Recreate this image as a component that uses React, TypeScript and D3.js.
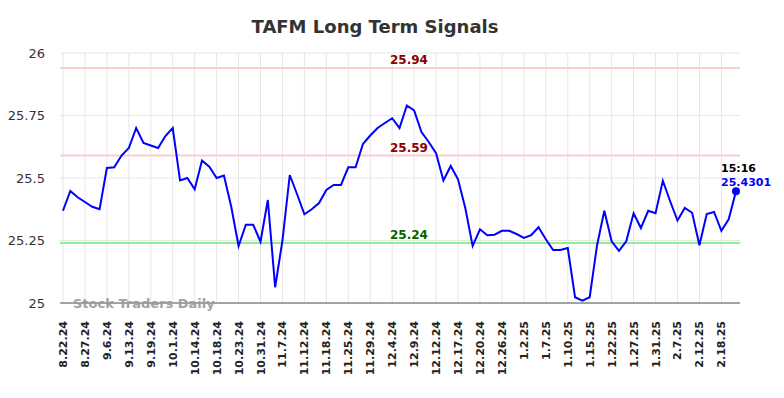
import React, { useRef, useEffect } from 'react';
import * as d3 from 'd3';

const title = 'TAFM Long Term Signals';

const prices = [
  25.369, 25.448, 25.423, 25.404, 25.385, 25.375, 25.54, 25.543, 25.59, 25.62,
  25.70, 25.64, 25.63, 25.62, 25.668, 25.70, 25.49, 25.50, 25.455, 25.57,
  25.545, 25.50, 25.51, 25.385, 25.228, 25.313, 25.313, 25.245, 25.412, 25.063,
  25.25, 25.512, 25.435, 25.355, 25.375, 25.40, 25.452, 25.472, 25.472, 25.543,
  25.543, 25.636, 25.67, 25.70, 25.72, 25.739, 25.70, 25.79, 25.77, 25.684,
  25.644, 25.599, 25.49, 25.548, 25.495, 25.379, 25.228, 25.295, 25.271, 25.273,
  25.289, 25.289, 25.276, 25.26, 25.271, 25.303, 25.255, 25.212, 25.212, 25.22,
  25.023, 25.009, 25.023, 25.23, 25.369, 25.247, 25.209, 25.247, 25.359, 25.30,
  25.369, 25.359, 25.489, 25.407, 25.33, 25.38, 25.361, 25.231, 25.356, 25.364,
  25.289, 25.335, 25.447,
];

// a label every third point
const tickLabels = [
  '8.22.24', '8.27.24', '9.6.24', '9.13.24', '9.19.24', '10.1.24', '10.14.24', '10.18.24',
  '10.23.24', '10.31.24', '11.7.24', '11.12.24', '11.18.24', '11.25.24', '11.29.24', '12.4.24',
  '12.9.24', '12.12.24', '12.17.24', '12.20.24', '12.26.24', '1.2.25', '1.7.25', '1.10.25',
  '1.15.25', '1.22.25', '1.27.25', '1.31.25', '2.7.25', '2.12.25', '2.18.25',
];

const yTicks = [25, 25.25, 25.5, 25.75, 26];

const signals = [
  { value: 25.94, line: '#ffcccc', text: '#8b0000' },
  { value: 25.59, line: '#ffcccc', text: '#8b0000' },
  { value: 25.24, line: '#90ee90', text: '#006400' },
];

const lastTime = '15:16';
const lastPrice = '25.4301';

const App = () => {
  const width = 784;
  const height = 398;
  const svgRef = useRef<SVGSVGElement>(null);

  useEffect(() => {
    const svg = d3.select(svgRef.current);
    svg.selectAll('*').remove();
    const font = 'DejaVu Sans, sans-serif';

    const left = 60, right = 740, top = 53, bottom = 303;
    const x = d3.scaleLinear().domain([0, prices.length - 1]).range([63, 736]);
    const y = d3.scaleLinear().domain([25, 26]).range([bottom, top]);

    svg.append('text')
      .attr('x', 375).attr('y', 33)
      .attr('text-anchor', 'middle')
      .style('font-family', font).style('font-size', '18px').style('font-weight', 'bold')
      .attr('fill', '#333')
      .text(title);

    // grid
    svg.append('g').selectAll('line')
      .data(yTicks)
      .enter().append('line')
      .attr('x1', left).attr('x2', right)
      .attr('y1', d => y(d)).attr('y2', d => y(d))
      .attr('stroke', '#e6e6e6').attr('stroke-width', 1);

    svg.append('g').selectAll('line')
      .data(tickLabels)
      .enter().append('line')
      .attr('x1', (d, i) => x(i * 3)).attr('x2', (d, i) => x(i * 3))
      .attr('y1', top).attr('y2', bottom)
      .attr('stroke', '#e6e6e6').attr('stroke-width', 1);

    svg.append('g').selectAll('text')
      .data(yTicks)
      .enter().append('text')
      .attr('x', 45).attr('y', d => y(d))
      .attr('dy', '0.35em')
      .attr('text-anchor', 'end')
      .style('font-family', font).style('font-size', '13px')
      .attr('fill', '#333')
      .text(d => d3.format('')(d));

    svg.append('g').selectAll('text')
      .data(tickLabels)
      .enter().append('text')
      .attr('transform', (d, i) => `translate(${x(i * 3) + 4},${bottom + 18}) rotate(-90)`)
      .attr('text-anchor', 'end')
      .style('font-family', font).style('font-size', '11px').style('font-weight', 'bold')
      .attr('fill', '#222')
      .text(d => d);

    // signal lines
    signals.forEach(s => {
      svg.append('line')
        .attr('x1', left).attr('x2', right)
        .attr('y1', y(s.value)).attr('y2', y(s.value))
        .attr('stroke', s.line).attr('stroke-width', 2);
      svg.append('text')
        .attr('x', 409).attr('y', y(s.value) - 4)
        .attr('text-anchor', 'middle')
        .style('font-family', font).style('font-size', '12px').style('font-weight', 'bold')
        .attr('fill', s.text)
        .text(s.value.toFixed(2));
    });

    svg.append('line')
      .attr('x1', left).attr('x2', right)
      .attr('y1', bottom).attr('y2', bottom)
      .attr('stroke', '#555').attr('stroke-width', 1);

    svg.append('text')
      .attr('x', 73).attr('y', 308)
      .style('font-family', font).style('font-size', '13px').style('font-weight', 'bold')
      .attr('fill', '#999').attr('opacity', 0.9)
      .text('Stock Traders Daily');

    const line = d3.line<number>()
      .x((d, i) => x(i))
      .y(d => y(d));

    svg.append('path')
      .datum(prices)
      .attr('d', line)
      .attr('fill', 'none')
      .attr('stroke', '#0000ff')
      .attr('stroke-width', 2);

    const lastIdx = prices.length - 1;
    const last = prices[lastIdx];
    svg.append('circle')
      .attr('cx', x(lastIdx)).attr('cy', y(last))
      .attr('r', 4).attr('fill', '#0000ff');

    svg.append('text')
      .attr('x', 721).attr('y', y(last) - 19)
      .style('font-family', font).style('font-size', '11px').style('font-weight', 'bold')
      .attr('fill', '#000')
      .text(lastTime);
    svg.append('text')
      .attr('x', 721).attr('y', y(last) - 5)
      .style('font-family', font).style('font-size', '11px').style('font-weight', 'bold')
      .attr('fill', '#0000ff')
      .text(lastPrice);
  }, []);

  return (
    <svg ref={svgRef} width={width} height={height} style={{ position: 'absolute', left: 0, top: 0 }}></svg>
  );
};

export default App;
